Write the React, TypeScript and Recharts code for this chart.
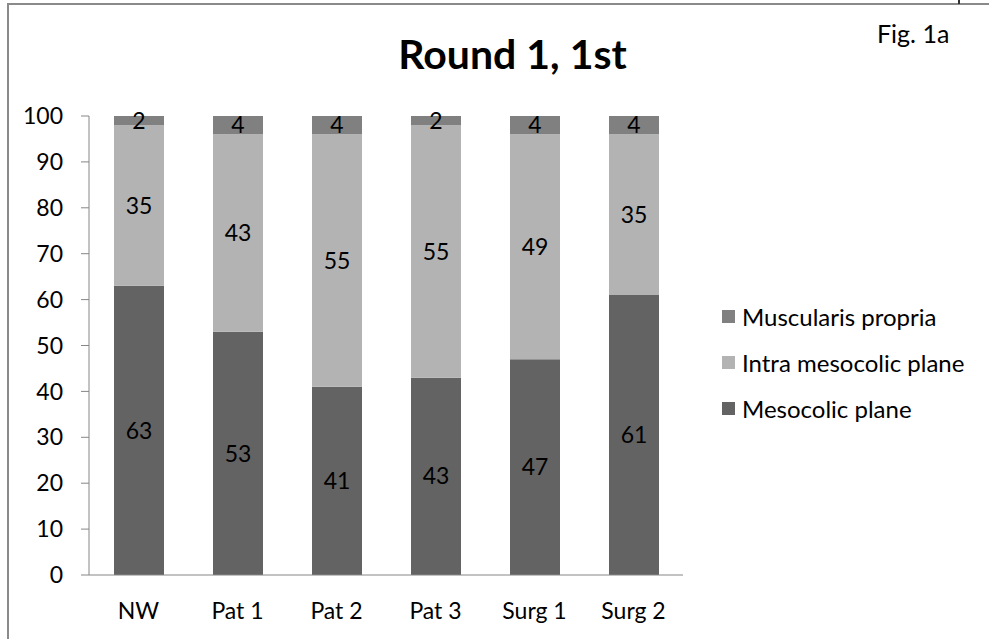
import { Bar, BarChart, LabelList, XAxis, YAxis } from "recharts";

const categories = ["NW", "Pat 1", "Pat 2", "Pat 3", "Surg 1", "Surg 2"];
const mesocolic = [63, 53, 41, 43, 47, 61];
const intraMesocolic = [35, 43, 55, 55, 49, 35];
const muscularis = [2, 4, 4, 2, 4, 4];
const yTicks = [0, 10, 20, 30, 40, 50, 60, 70, 80, 90, 100];

const data = categories.map((name, i) => ({
	name,
	mesocolic: mesocolic[i],
	intra: intraMesocolic[i],
	muscularis: muscularis[i],
}));

const legendItems = [
	{ label: "Muscularis propria", color: "#808080" },
	{ label: "Intra mesocolic plane", color: "#b3b3b3" },
	{ label: "Mesocolic plane", color: "#636363" },
];

const font = "Lato, 'Open Sans', sans-serif";

const CustomLegend = () => (
	<div
		style={{
			position: "absolute",
			left: 722,
			top: 293,
			fontSize: 24,
			color: "#000",
		}}
	>
		{legendItems.map((item) => (
			<div
				key={item.label}
				style={{ display: "flex", alignItems: "center", height: 46 }}
			>
				<span
					style={{
						display: "inline-block",
						width: 13,
						height: 13,
						background: item.color,
						marginRight: 7,
					}}
				/>
				{item.label}
			</div>
		))}
	</div>
);

const App = () => {
	return (
		<div
			style={{
				position: "absolute",
				left: 0,
				top: 0,
				width: 989,
				height: 639,
				background: "#fff",
				fontFamily: font,
			}}
		>
			<div style={{ position: "absolute", left: 7, top: 3, width: 2, height: 636, background: "#8a8a8a" }} />
			<div style={{ position: "absolute", left: 7, top: 3, width: 982, height: 2, background: "#8a8a8a" }} />
			<div style={{ position: "absolute", left: 958, top: 0, width: 2, height: 4, background: "#333" }} />
			<div
				style={{
					position: "absolute",
					left: 0,
					width: 989,
					top: 29,
					textAlign: "center",
					fontSize: 41,
					fontWeight: 700,
					paddingLeft: 36,
					boxSizing: "border-box",
				}}
			>
				Round 1, 1st
			</div>
			<div style={{ position: "absolute", left: 877, top: 18, fontSize: 25 }}>
				Fig. 1a
			</div>
			<BarChart
				width={989}
				height={639}
				data={data}
				margin={{ top: 116, right: 306, bottom: 34, left: 29 }}
				barSize={50}
			>
				<XAxis
					dataKey="name"
					axisLine={{ stroke: "#868686" }}
					tickLine={false}
					tick={{ fill: "#000", fontSize: 23 }}
					tickMargin={22}
					height={30}
				/>
				<YAxis
					domain={[0, 100]}
					ticks={yTicks}
					width={60}
					axisLine={{ stroke: "#868686" }}
					tickLine={{ stroke: "#868686" }}
					tickSize={8}
					tick={{ fill: "#000", fontSize: 23 }}
					tickMargin={18}
				/>
				<Bar dataKey="mesocolic" stackId="a" fill="#636363" isAnimationActive={false}>
					<LabelList dataKey="mesocolic" position="center" fill="#000" fontSize={23} />
				</Bar>
				<Bar dataKey="intra" stackId="a" fill="#b3b3b3" isAnimationActive={false}>
					<LabelList dataKey="intra" position="center" fill="#000" fontSize={23} />
				</Bar>
				<Bar dataKey="muscularis" stackId="a" fill="#808080" isAnimationActive={false}>
					<LabelList dataKey="muscularis" position="center" fill="#000" fontSize={23} />
				</Bar>
			</BarChart>
			<CustomLegend />
		</div>
	);
};

export default App;
